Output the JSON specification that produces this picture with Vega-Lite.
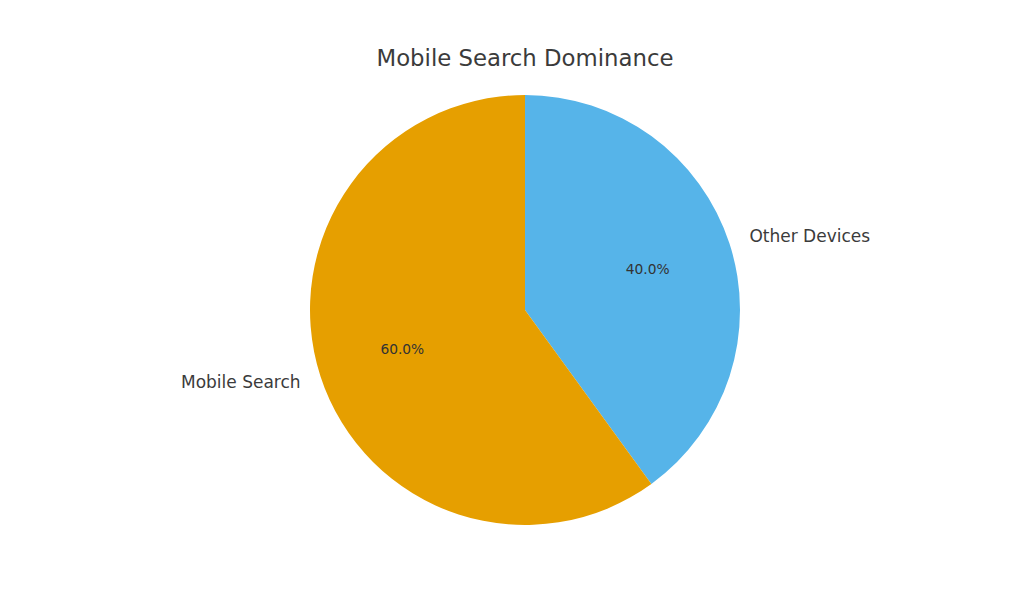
{
  "$schema": "https://vega.github.io/schema/vega-lite/v6.json",
  "width": 600,
  "height": 440,
  "autosize": {"type": "none"},
  "padding": {"left": 225, "top": 90, "right": 199, "bottom": 84},
  "background": "white",
  "title": {
    "text": "Mobile Search Dominance",
    "font": "DejaVu Sans",
    "fontSize": 22.8,
    "fontWeight": "normal",
    "color": "#3b3b3b",
    "anchor": "middle",
    "offset": 19
  },
  "data": {
    "values": [
      {"category": "Other Devices", "share": 0.4},
      {"category": "Mobile Search", "share": 0.6}
    ]
  },
  "encoding": {
    "theta": {"field": "share", "type": "quantitative", "stack": true},
    "order": {"field": "category", "sort": "descending"}
  },
  "layer": [
    {
      "mark": {"type": "arc", "radius": 215},
      "encoding": {
        "color": {
          "field": "category",
          "type": "nominal",
          "scale": {"domain": ["Other Devices", "Mobile Search"], "range": ["#56B4E9", "#E69F00"]},
          "legend": null
        }
      }
    },
    {
      "mark": {"type": "text", "radius": 129, "font": "DejaVu Sans", "fontSize": 13.8, "color": "#333333"},
      "encoding": {
        "text": {"field": "share", "type": "quantitative", "format": ".1%"}
      }
    },
    {
      "transform": [{"filter": "datum.category === 'Other Devices'"}],
      "mark": {"type": "text", "radius": 236, "align": "left", "font": "DejaVu Sans", "fontSize": 17, "color": "#3b3b3b"},
      "encoding": {
        "theta": {"value": 1.2566},
        "text": {"field": "category", "type": "nominal"}
      }
    },
    {
      "transform": [{"filter": "datum.category === 'Mobile Search'"}],
      "mark": {"type": "text", "radius": 236, "align": "right", "font": "DejaVu Sans", "fontSize": 17, "color": "#3b3b3b"},
      "encoding": {
        "theta": {"value": 4.3982},
        "text": {"field": "category", "type": "nominal"}
      }
    }
  ]
}
